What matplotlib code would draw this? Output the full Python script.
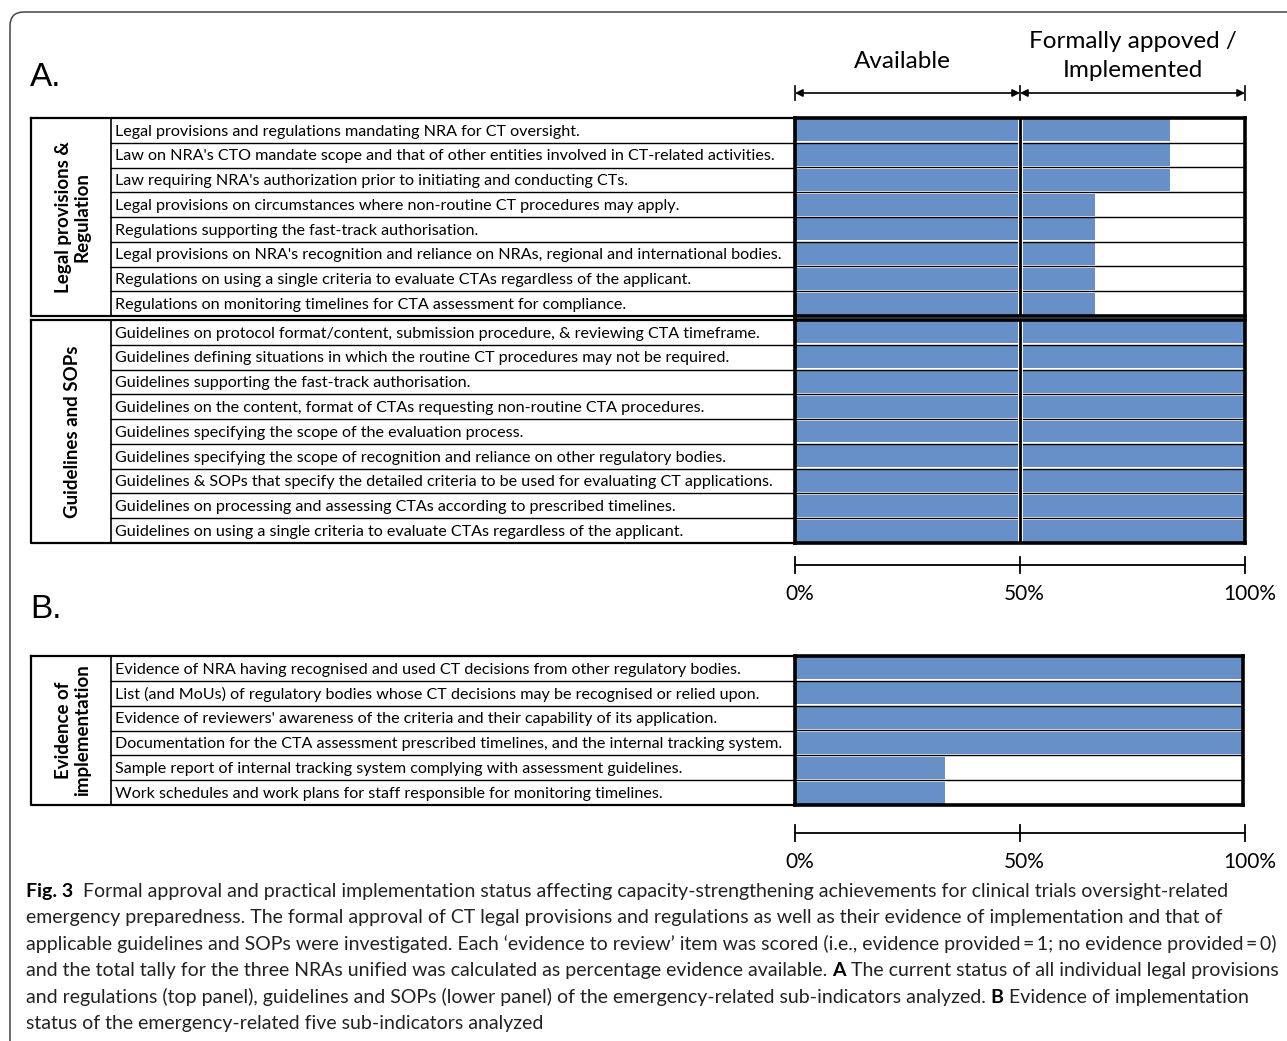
import matplotlib
matplotlib.use("Agg")
import matplotlib.pyplot as plt
from matplotlib.patches import FancyBboxPatch

# ---------------------------------------------
# Data: percentage of evidence available per item
# ---------------------------------------------
legal_items = [
    "Legal provisions and regulations mandating NRA for CT oversight.",
    "Law on NRA's CTO mandate scope and that of other entities involved in CT-related activities.",
    "Law requiring NRA's authorization prior to initiating and conducting CTs.",
    "Legal provisions on circumstances where non-routine CT procedures may apply.",
    "Regulations supporting the fast-track authorisation.",
    "Legal provisions on NRA's recognition and reliance on NRAs, regional and international bodies.",
    "Regulations on using a single criteria to evaluate CTAs regardless of the applicant.",
    "Regulations on monitoring timelines for CTA assessment for compliance.",
]
legal_pct = [83.3, 83.3, 83.3, 66.7, 66.7, 66.7, 66.7, 66.7]

guideline_items = [
    "Guidelines on protocol format/content, submission procedure, & reviewing CTA timeframe.",
    "Guidelines defining situations in which the routine CT procedures may not be required.",
    "Guidelines supporting the fast-track authorisation.",
    "Guidelines on the content, format of CTAs requesting non-routine CTA procedures.",
    "Guidelines specifying the scope of the evaluation process.",
    "Guidelines specifying the scope of recognition and reliance on other regulatory bodies.",
    "Guidelines & SOPs that specify the detailed criteria to be used for evaluating CT applications.",
    "Guidelines on processing and assessing CTAs according to prescribed timelines.",
    "Guidelines on using a single criteria to evaluate CTAs regardless of the applicant.",
]
guideline_pct = [100, 100, 100, 100, 100, 100, 100, 100, 100]

evidence_items = [
    "Evidence of NRA having recognised and used CT decisions from other regulatory bodies.",
    "List (and MoUs) of regulatory bodies whose CT decisions may be recognised or relied upon.",
    "Evidence of reviewers' awareness of the criteria and their capability of its application.",
    "Documentation for the CTA assessment prescribed timelines, and the internal tracking system.",
    "Sample report of internal tracking system complying with assessment guidelines.",
    "Work schedules and work plans for staff responsible for monitoring timelines.",
]
evidence_pct = [100, 100, 100, 100, 33.3, 33.3]

scale_ticks = [0, 50, 100]
scale_labels = ["0%", "50%", "100%"]

caption_lines = [
    [("Fig. 3", True), ("  Formal approval and practical implementation status affecting capacity-strengthening achievements for clinical trials oversight-related", False)],
    [("emergency preparedness. The formal approval of CT legal provisions and regulations as well as their evidence of implementation and that of", False)],
    [("applicable guidelines and SOPs were investigated. Each \u2018evidence to review\u2019 item was scored (i.e., evidence provided\u2009=\u20091; no evidence provided\u2009=\u20090)", False)],
    [("and the total tally for the three NRAs unified was calculated as percentage evidence available. ", False), ("A", True), (" The current status of all individual legal provisions", False)],
    [("and regulations (top panel), guidelines and SOPs (lower panel) of the emergency-related sub-indicators analyzed. ", False), ("B", True), (" Evidence of implementation", False)],
    [("status of the emergency-related five sub-indicators analyzed", False)],
]

BLUE = "#6690c7"
W, H = 1287, 1041
ROW_FONT = "Lato"

fig = plt.figure(figsize=(W / 100, H / 100), dpi=100)
ax = fig.add_axes([0, 0, 1, 1])
ax.set_xlim(0, W)
ax.set_ylim(H, 0)
ax.axis("off")


def px_axes(x0, y0, x1, y1):
    return fig.add_axes([x0 / W, 1 - y1 / H, (x1 - x0) / W, (y1 - y0) / H])


# rounded frame around the figure
frame = FancyBboxPatch((10, 12), 1400, 1200, boxstyle="round,pad=0,rounding_size=14",
                       fill=False, ec="#444444", lw=1.1, clip_on=False)
ax.add_patch(frame)

X_LEFT, X_DIV, X_BAR0, X_BAR1 = 31, 111, 795, 1245


def draw_group(items, pct, title, y0, y1, bar_right=X_BAR1, split=True):
    n = len(items)
    rh = (y1 - y0) / n
    # left table: category cell + label column
    ax.plot([X_LEFT, X_BAR0, X_BAR0, X_LEFT, X_LEFT], [y0, y0, y1, y1, y0], color="black", lw=1.6)
    ax.plot([X_DIV, X_DIV], [y0, y1], color="black", lw=1.2)
    for i in range(1, n):
        ax.plot([X_DIV, X_BAR0], [y0 + i * rh] * 2, color="black", lw=1.0)
    for i, lab in enumerate(items):
        ax.text(X_DIV + 4, y0 + (i + 0.55) * rh, lab, ha="left", va="center",
                fontsize=11.65, family=ROW_FONT)
    ax.text((X_LEFT + X_DIV) / 2 + 2, (y0 + y1) / 2, title, rotation=90, ha="center",
            va="center", fontsize=13.5, fontweight="bold", family=ROW_FONT, linespacing=1.12)

    # bar area
    bax = px_axes(X_BAR0, y0, bar_right, y1)
    bax.set_xlim(0, 100 * (bar_right - X_BAR0) / (X_BAR1 - X_BAR0))
    bax.set_ylim(n, 0)
    ypos = [i + 0.5 for i in range(n)]
    bax.barh(ypos, pct, height=0.88, color=BLUE, edgecolor="none", left=0)
    for i in range(1, n):
        bax.axhline(i, color="black", lw=1.0)
    if split:
        bax.axvline(50, color="white", lw=3.5)
        bax.axvline(50, color="black", lw=2)
    for s in bax.spines.values():
        s.set_linewidth(2.6)
    bax.set_xticks([])
    bax.set_yticks([])


def draw_scale(y, x1=X_BAR1):
    sax = px_axes(X_BAR0, y - 8, x1, y + 8)
    sax.set_xlim(0, 100)
    sax.set_ylim(-1, 1)
    sax.axis("off")
    sax.plot([0, 100], [0, 0], color="black", lw=1.3, clip_on=False)
    for t, lab in zip(scale_ticks, scale_labels):
        sax.plot([t, t], [-1, 1], color="black", lw=1.3, clip_on=False)
        sax.text(t + 1, -3.6, lab, ha="center", va="center", fontsize=15, family=ROW_FONT)


# ---------- Panel A ----------
ax.text(30, 78, "A.", fontsize=24, va="center", ha="left", family="Liberation Sans")

tax = px_axes(X_BAR0, 85, X_BAR1, 101)
tax.set_xlim(0, 100)
tax.set_ylim(-1, 1)
tax.axis("off")
for a, b in [(0, 50), (50, 100)]:
    tax.annotate("", xy=(b, 0), xytext=(a, 0),
                 arrowprops=dict(arrowstyle="<|-|>", color="black", lw=1.2,
                                 mutation_scale=11, shrinkA=0, shrinkB=0))
for t in scale_ticks:
    tax.plot([t, t], [-0.9, 0.9], color="black", lw=1.2, clip_on=False)
ax.text(902, 62, "Available", ha="center", va="center", fontsize=17.5, family=ROW_FONT)
ax.text(1133, 56, "Formally appoved /\nImplemented", ha="center", va="center",
        fontsize=17.5, family=ROW_FONT, linespacing=1.45)

draw_group(legal_items, legal_pct, "Legal provisions &\nRegulation", 118, 316)
draw_group(guideline_items, guideline_pct, "Guidelines and SOPs", 320, 543)
draw_scale(565)

# ---------- Panel B ----------
ax.text(30, 610, "B.", fontsize=24, va="center", ha="left", family="Liberation Sans")
draw_group(evidence_items, evidence_pct, "Evidence of\nimplementation", 656, 805,
           bar_right=1243, split=False)
draw_scale(833)

# ---------- Caption ----------
renderer = fig.canvas.get_renderer()
inv = ax.transData.inverted()
for k, parts in enumerate(caption_lines):
    x = 26
    y = 891 + k * 26.6
    for txt, bold in parts:
        t = ax.text(x, y, txt, ha="left", va="center", fontsize=14, family=ROW_FONT,
                    fontweight="bold" if bold else "normal", color="#222222" if not bold else "black")
        bb = t.get_window_extent(renderer=renderer)
        x = inv.transform((bb.x1, 0))[0]

fig.savefig("out.png", dpi=100)
